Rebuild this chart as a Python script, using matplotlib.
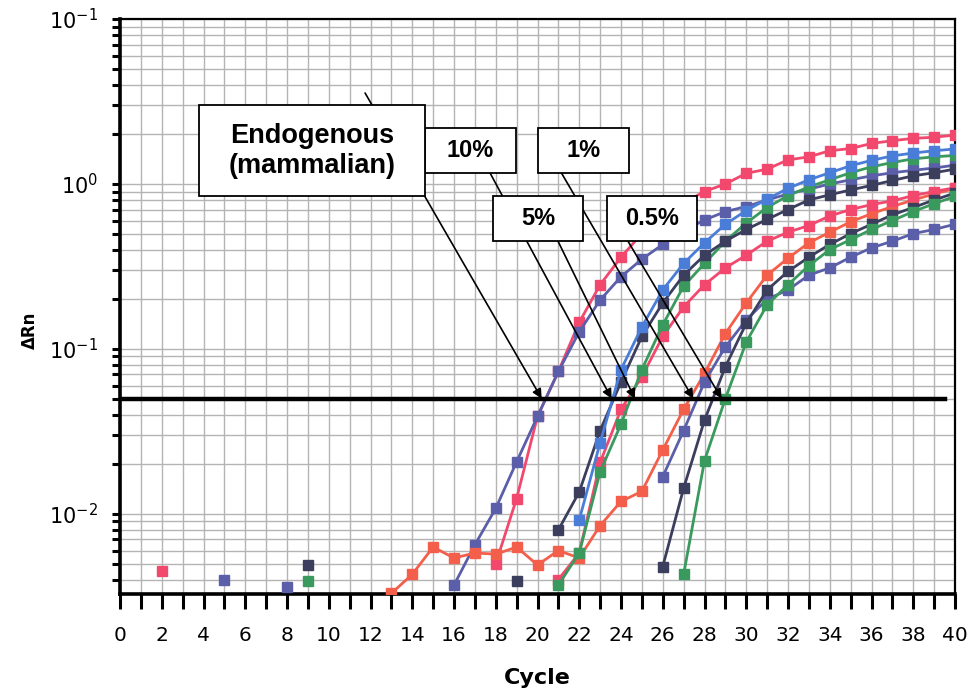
import numpy as np
import matplotlib
matplotlib.use("Agg")
import matplotlib.pyplot as plt
from matplotlib.patches import Rectangle
from matplotlib.ticker import MultipleLocator, LogLocator, NullFormatter

# ---- data (delta Rn per cycle) ----
n_cycles = 41
threshold = 0.05

# endogenous (mammalian)
pink_a_start = 18
pink_a = [0.005, 0.0124, 0.039, 0.073, 0.145, 0.245, 0.36, 0.50, 0.63, 0.77, 0.90, 1.0,
          1.16, 1.23, 1.40, 1.46, 1.59, 1.64, 1.76, 1.83, 1.89, 1.92, 1.98]
violet_b_start = 16
violet_b = [0.0037, 0.0065, 0.0108, 0.0207, 0.039, 0.073, 0.127, 0.198, 0.274, 0.35, 0.43,
            0.52, 0.605, 0.68, 0.73, 0.80, 0.87, 0.93, 1.0, 1.06, 1.12, 1.17, 1.21, 1.25, 1.30]
# 10%
blue_c_start = 22
blue_c = [0.0092, 0.027, 0.075, 0.136, 0.228, 0.33, 0.44, 0.57, 0.69, 0.81, 0.94, 1.06,
          1.17, 1.29, 1.39, 1.48, 1.54, 1.59, 1.63]
navy_d_start = 21
navy_d = [0.008, 0.0136, 0.032, 0.063, 0.119, 0.19, 0.28, 0.37, 0.45, 0.53, 0.61, 0.70,
          0.80, 0.86, 0.92, 0.98, 1.05, 1.12, 1.17, 1.23]
# 5%
green_e_start = 21
green_e = [0.0037, 0.0058, 0.018, 0.035, 0.075, 0.14, 0.24, 0.33, 0.45, 0.58, 0.72, 0.85,
           0.96, 1.06, 1.17, 1.27, 1.35, 1.42, 1.46, 1.49]
pink_f_start = 21
pink_f = [0.004, 0.0058, 0.0205, 0.043, 0.068, 0.119, 0.18, 0.245, 0.31, 0.37, 0.45, 0.51,
          0.56, 0.64, 0.70, 0.75, 0.79, 0.85, 0.90, 0.95]
# 1%
orange_g_start = 12
orange_g = [0.0025, 0.0033, 0.0043, 0.0063, 0.0054, 0.0058, 0.0057, 0.0063, 0.0049, 0.006,
            0.0054, 0.0085, 0.0119, 0.0137, 0.0244, 0.043, 0.071, 0.124, 0.19, 0.28, 0.355,
            0.44, 0.51, 0.59, 0.66, 0.73, 0.80, 0.87, 0.94]
violet_h_start = 26
violet_h = [0.0168, 0.032, 0.063, 0.103, 0.15, 0.20, 0.228, 0.28, 0.31, 0.36, 0.41, 0.45,
            0.50, 0.53, 0.57]
# 0.5%
navy_i_start = 26
navy_i = [0.0048, 0.0143, 0.037, 0.078, 0.143, 0.228, 0.295, 0.36, 0.43, 0.50, 0.57, 0.65,
          0.72, 0.80, 0.88]
green_j_start = 27
green_j = [0.0043, 0.021, 0.05, 0.11, 0.185, 0.245, 0.32, 0.40, 0.46, 0.53, 0.60, 0.68,
           0.76, 0.84]

# single stray points at low cycles
stray_cycles = [2, 5, 8, 9, 9, 19]
stray_values = [0.0045, 0.004, 0.0036, 0.0049, 0.0039, 0.0039]
stray_kind = ["pink", "violet", "violet", "navy", "green", "navy"]

colors = {
    "pink": "#f2486e",
    "violet": "#5b5ea8",
    "blue": "#4a7dd8",
    "navy": "#3c3e5e",
    "green": "#3a9a5e",
    "orange": "#f45f4c",
}

series = [
    (pink_a_start, pink_a, "pink"),
    (violet_b_start, violet_b, "violet"),
    (orange_g_start, orange_g, "orange"),
    (pink_f_start, pink_f, "pink"),
    (green_e_start, green_e, "green"),
    (navy_d_start, navy_d, "navy"),
    (blue_c_start, blue_c, "blue"),
    (violet_h_start, violet_h, "violet"),
    (navy_i_start, navy_i, "navy"),
    (green_j_start, green_j, "green"),
]


def on_cycles(start, vals):
    """Put a run of values on the full cycle axis, NaN elsewhere"""
    y = np.full(n_cycles, np.nan)
    y[start:start + len(vals)] = vals
    return y


cycles = np.arange(n_cycles)

fig = plt.figure(figsize=(9.68, 6.95), dpi=100)
ax = fig.add_axes([120 / 968, 1 - 594 / 695, 835 / 968, 575 / 695])

for start, vals, kind in series:
    ax.plot(cycles, on_cycles(start, vals), color=colors[kind], lw=2, marker="s",
            markersize=7.5, zorder=3)

for c, v, kind in zip(stray_cycles, stray_values, stray_kind):
    ax.plot([c], [v], color=colors[kind], marker="s", markersize=7.5, ls="none", zorder=3)

ax.plot([0, 39.5], [threshold, threshold], color="black", lw=3.2, zorder=4)

ax.set_yscale("log")
ax.set_xlim(0, 40)
ax.set_ylim(0.00327, 10)

ax.xaxis.set_major_locator(MultipleLocator(2))
ax.xaxis.set_minor_locator(MultipleLocator(1))
ax.yaxis.set_major_locator(LogLocator(base=10))
ax.yaxis.set_minor_locator(LogLocator(base=10, subs=np.arange(2, 10)))
ax.yaxis.set_minor_formatter(NullFormatter())
ax.set_yticks([0.01, 0.1, 1, 10])
ax.set_yticklabels([r"$\mathregular{10^{-2}}$", r"$\mathregular{10^{-1}}$",
                    r"$\mathregular{10^{0}}$", r"$\mathregular{10^{-1}}$"])

ax.set_axisbelow(True)
ax.grid(which="both", color="#b4b4b4", lw=1.0)

ax.tick_params(axis="x", which="both", direction="out", length=11, width=2.2,
               labelsize=14.5, pad=12)
ax.tick_params(axis="y", which="both", direction="out", length=6, width=2.2,
               labelsize=15, pad=10)
for side in ["left", "bottom"]:
    ax.spines[side].set_linewidth(2.6)
for side in ["top", "right"]:
    ax.spines[side].set_linewidth(1.6)

fig.text(30 / 968, 1 - 330 / 695, "ΔRn", rotation=90, fontweight="bold", fontsize=12,
         ha="center", va="center")
fig.text(537 / 968, 1 - 678 / 695, "Cycle", fontweight="bold", fontsize=16,
         ha="center", va="center")

# arrows from label boxes to the threshold crossings
arrows = [
    ((11.74, 3.56), (20.2, threshold)),
    ((17.13, 1.61), (23.55, threshold)),
    ((20.6, 0.565), (24.67, threshold)),
    ((20.78, 1.40), (27.46, threshold)),
    ((23.96, 0.54), (28.82, threshold)),
]
for start, end in arrows:
    ax.annotate("", xy=end, xytext=start,
                arrowprops=dict(arrowstyle="-|>", color="black", lw=1.2,
                                mutation_scale=14, shrinkA=0, shrinkB=0),
                zorder=5)

# label boxes: (x0, x1, y0, y1, text, fontsize, zorder)
boxes = [
    (14.61, 18.97, 1.166, 2.18, "10%", 17, 6),
    (3.78, 14.61, 0.845, 3.01, "Endogenous\n(mammalian)", 19.5, 8),
    (20.02, 24.38, 1.166, 2.18, "1%", 17, 6),
    (17.87, 22.18, 0.452, 0.845, "5%", 17, 6),
    (23.33, 27.64, 0.452, 0.845, "0.5%", 17, 6),
]
for x0, x1, y0, y1, label, size, z in boxes:
    ax.add_patch(Rectangle((x0, y0), x1 - x0, y1 - y0, facecolor="white",
                           edgecolor="black", lw=1.3, zorder=z))
    ax.text((x0 + x1) / 2, np.sqrt(y0 * y1), label, ha="center", va="center",
            fontsize=size, fontweight="bold", family="Liberation Sans",
            linespacing=1.2, zorder=z + 1)

fig.savefig("out.png", dpi=100)
